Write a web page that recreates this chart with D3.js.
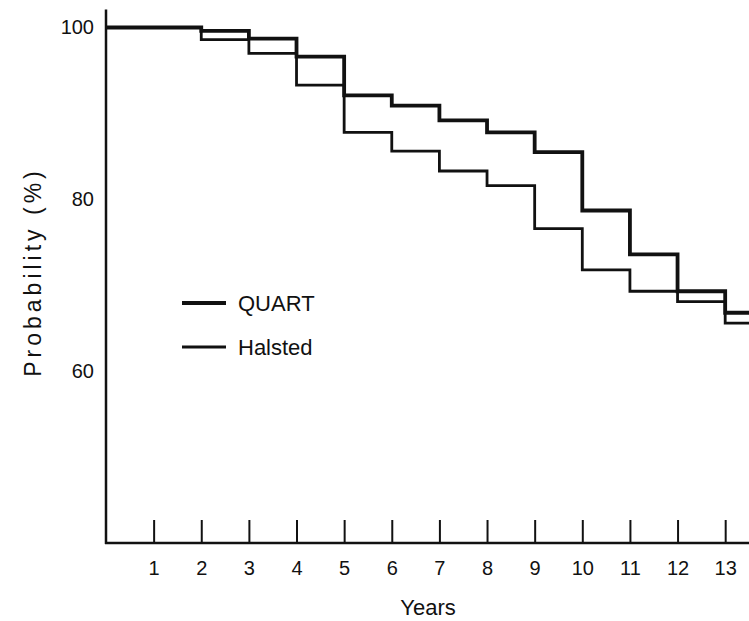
<!DOCTYPE html>
<html>
<head>
<meta charset="utf-8">
<script src="https://cdn.jsdelivr.net/npm/d3@7"></script>
<style>
  body { margin: 0; background: #fff; }
  svg text { font-family: "Liberation Sans", Arial, sans-serif; fill: #111; }
</style>
</head>
<body>
<svg id="chart" width="749" height="621"></svg>
<script>
// step times (years) and survival values (%)
var stepYears = [0, 2, 3, 4, 5, 6, 7, 8, 9, 10, 11, 12, 13, 13.5];
var quartValues = [100, 99.6, 98.7, 96.6, 92.1, 90.9, 89.2, 87.8, 85.5, 78.7, 73.6, 69.3, 66.8, 66.8];
var halstedValues = [100, 98.6, 97.0, 93.3, 87.8, 85.6, 83.3, 81.6, 76.6, 71.8, 69.3, 68.1, 65.6, 65.6];
var xTicks = [1, 2, 3, 4, 5, 6, 7, 8, 9, 10, 11, 12, 13];
var yTicks = [60, 80, 100];
var seriesNames = ["QUART", "Halsted"];

var svg = d3.select("#chart");

// scales
var x = d3.scaleLinear().domain([0, 13.5]).range([106, 749]);
var y = d3.scaleLinear().domain([40, 100]).range([543, 27.5]);

//////////////// axes ////////////////
var xAxis = d3.axisBottom(x)
    .tickValues(xTicks)
    .tickSize(-23)
    .tickPadding(32)
    .tickFormat(d3.format("d"));

var gx = svg.append("g")
    .attr("transform", "translate(0," + y(40) + ")")
    .call(xAxis);
gx.select(".domain").remove();
gx.selectAll(".tick line").attr("stroke", "#111").attr("stroke-width", 2);
gx.selectAll(".tick text").attr("font-size", 20).attr("dy", 0);

// x axis baseline
svg.append("line")
    .attr("x1", x(0) - 1).attr("x2", 749)
    .attr("y1", y(40)).attr("y2", y(40))
    .attr("stroke", "#111").attr("stroke-width", 2.5);

var yAxis = d3.axisLeft(y)
    .tickValues(yTicks)
    .tickSize(0)
    .tickPadding(12)
    .tickFormat(d3.format("d"));

var gy = svg.append("g")
    .attr("transform", "translate(" + x(0) + ",0)")
    .call(yAxis);
gy.select(".domain").remove();
gy.selectAll(".tick text").attr("font-size", 20);

// y axis line, runs a bit above 100
svg.append("line")
    .attr("x1", x(0)).attr("x2", x(0))
    .attr("y1", y(102.1)).attr("y2", y(40) + 1)
    .attr("stroke", "#111").attr("stroke-width", 2.5);

// axis titles
svg.append("text")
    .attr("x", 428).attr("y", 615)
    .attr("text-anchor", "middle")
    .attr("font-size", 22)
    .text("Years");

svg.append("text")
    .attr("transform", "translate(41,272) rotate(-90)")
    .attr("text-anchor", "middle")
    .attr("font-size", 23)
    .attr("letter-spacing", 4)
    .text("Probability (%)");

//////////////// step curves ////////////////
var line = d3.line()
    .x(function(d) { return x(d[0]); })
    .y(function(d) { return y(d[1]); })
    .curve(d3.curveStepAfter);

var halsted = stepYears.map(function(t, i) { return [t, halstedValues[i]]; });
var quart = stepYears.map(function(t, i) { return [t, quartValues[i]]; });

svg.append("path")
    .attr("d", line(halsted))
    .attr("fill", "none")
    .attr("stroke", "#111")
    .attr("stroke-width", 2.8);

svg.append("path")
    .attr("d", line(quart))
    .attr("fill", "none")
    .attr("stroke", "#111")
    .attr("stroke-width", 3.8);

//////////////// legend ////////////////
var legend = svg.append("g").attr("class", "legend");
var widths = [3.8, 2.8];
seriesNames.forEach(function(name, i) {
    var ly = 303 + i * 44;
    legend.append("line")
        .attr("x1", 182).attr("x2", 226)
        .attr("y1", ly).attr("y2", ly)
        .attr("stroke", "#111")
        .attr("stroke-width", widths[i]);
    legend.append("text")
        .attr("x", 238).attr("y", ly + 8)
        .attr("font-size", 22)
        .text(name);
});
</script>
</body>
</html>
